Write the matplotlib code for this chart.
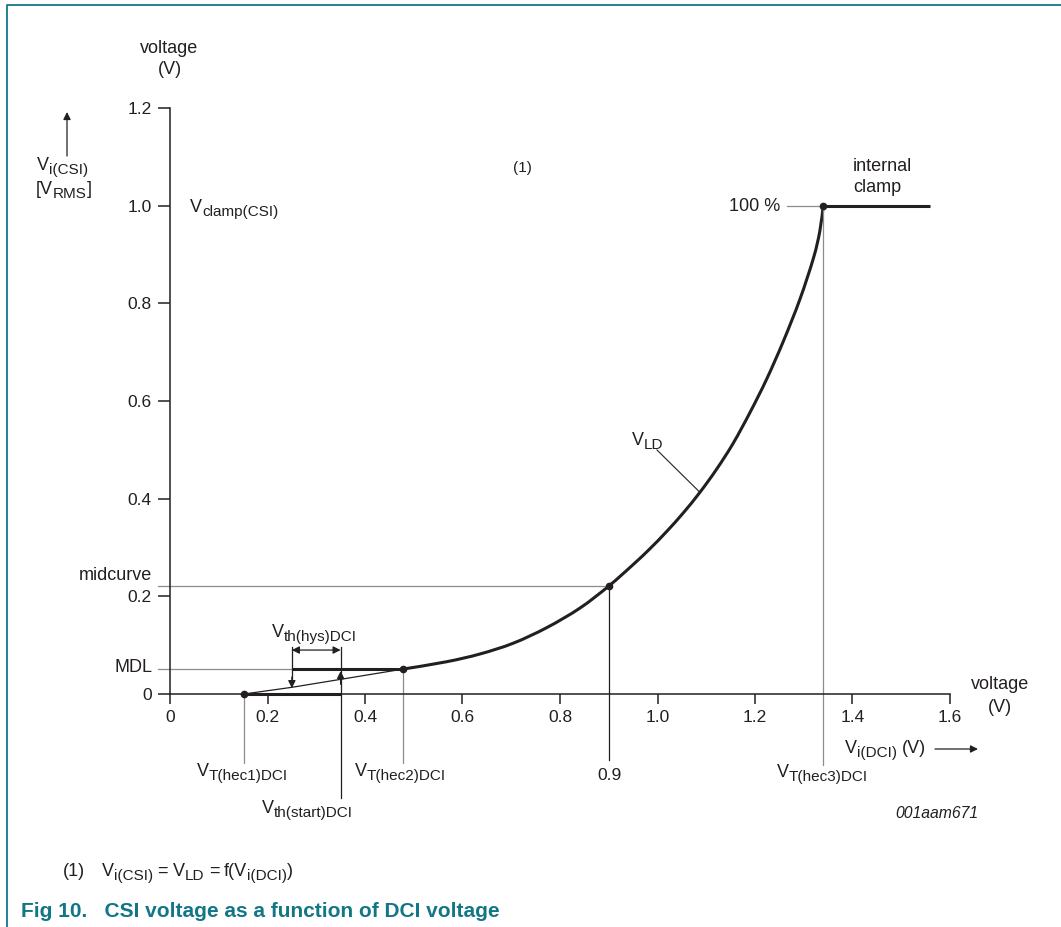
import matplotlib
matplotlib.use('Agg')
import matplotlib.pyplot as plt
from matplotlib.path import Path
from matplotlib.patches import PathPatch, FancyArrowPatch
from matplotlib.lines import Line2D

plt.rcParams['font.family'] = ['Liberation Sans', 'DejaVu Sans']
plt.rcParams['mathtext.default'] = 'regular'

# ---------------- data ----------------
x_ticks = [0, 0.2, 0.4, 0.6, 0.8, 1.0, 1.2, 1.4, 1.6]
x_tick_labels = ['0', '0.2', '0.4', '0.6', '0.8', '1.0', '1.2', '1.4', '1.6']
y_ticks = [0, 0.2, 0.4, 0.6, 0.8, 1.0, 1.2]
y_tick_labels = ['0', '0.2', '0.4', '0.6', '0.8', '1.0', '1.2']

# V_LD curve (from V_T(hec2)DCI up to V_T(hec3)DCI)
vld_x = [0.478, 0.567, 0.636, 0.704, 0.773, 0.841, 0.900, 0.950, 0.985, 1.019,
         1.053, 1.087, 1.121, 1.155, 1.190, 1.224, 1.258, 1.292, 1.320, 1.333,
         1.340]
vld_y = [0.051, 0.066, 0.082, 0.104, 0.136, 0.176, 0.221, 0.265, 0.298, 0.333,
         0.371, 0.413, 0.460, 0.513, 0.577, 0.645, 0.722, 0.808, 0.893, 0.948,
         1.000]

# thin start ramp between hec1 and hec2
ramp_x = [0.152, 0.25, 0.35, 0.478]
ramp_y = [0.0, 0.0137, 0.030, 0.051]

# key voltages
v_hec1 = 0.152
v_hys_low = 0.25
v_start = 0.35
v_hec2 = 0.478
v_mid = 0.9
v_hec3 = 1.34
v_clamp_end = 1.559
y_mdl = 0.051
y_midcurve = 0.221
y_clamp = 1.0
y_hys = 0.09

# ---------------- figure ----------------
W, H = 1061, 927
fig = plt.figure(figsize=(W / 100, H / 100), dpi=100)
TXT = '#231f20'
GRAY = '#8c8c8c'
TEAL = '#137687'

X0, X1 = 170, 950   # pixels for x = 0 and 1.6
Y0, Y1 = 694, 108   # pixels for y = 0 and 1.2
ax = fig.add_axes([X0 / W, 1 - Y0 / H, (X1 - X0) / W, (Y0 - Y1) / H])
ax.set_xlim(0, 1.6)
ax.set_ylim(0, 1.2)
for s in ['top', 'right']:
    ax.spines[s].set_visible(False)
for s in ['left', 'bottom']:
    ax.spines[s].set_linewidth(1.1)
    ax.spines[s].set_color(TXT)
ax.set_xticks(x_ticks)
ax.set_xticklabels(x_tick_labels)
ax.set_yticks(y_ticks)
ax.set_yticklabels(y_tick_labels)
ax.tick_params(axis='y', direction='out', length=8.6, width=1.1, pad=4.5,
               labelsize=12.5, colors=TXT)
ax.tick_params(axis='x', direction='out', length=7.4, width=1.1, pad=4,
               labelsize=12.5, colors=TXT)
ax.patch.set_alpha(0)

sx = (X1 - X0) / 1.6
sy = (Y0 - Y1) / 1.2


def px2x(p):
    return (p - X0) / sx


def py2y(p):
    return (Y0 - p) / sy


renderer = fig.canvas.get_renderer()


def T(x, y, s, ha='left', size=13, **kw):
    return fig.text(x / W, 1 - y / H, s, ha=ha, va='baseline', fontsize=size,
                    color=kw.pop('color', TXT), **kw)


def ST(x, y, parts, ha='left', size=13, subsize=11, subdrop=4.0):
    """Text with real subscripts; parts: (text, is_sub) tuples or pixel gaps."""
    items = []
    total = 0.0
    for p in parts:
        if isinstance(p, (int, float)):
            items.append((None, p, 0))
            total += p
            continue
        s, sub = p
        t = fig.text(0, 0, s, fontsize=subsize if sub else size, color=TXT,
                     va='baseline', ha='left')
        w = t.get_window_extent(renderer).width
        items.append((t, w, sub))
        total += w
    cx = x - (total / 2 if ha == 'center' else total if ha == 'right' else 0)
    for t, w, sub in items:
        if t is not None:
            t.set_position((cx / W, 1 - (y + (subdrop if sub else 0)) / H))
        cx += w


# gray guide lines
ax.plot([px2x(158), v_mid], [y_midcurve, y_midcurve], color=GRAY, lw=0.9, clip_on=False)
ax.plot([px2x(158), v_hec2], [y_mdl, y_mdl], color=GRAY, lw=0.9, clip_on=False)
ax.plot([px2x(787), v_hec3], [y_clamp, y_clamp], color=GRAY, lw=0.9, clip_on=False)
ax.plot([v_hec1, v_hec1], [0, py2y(763)], color=GRAY, lw=0.9, clip_on=False)
ax.plot([v_hec2, v_hec2], [y_mdl, py2y(763)], color=GRAY, lw=0.9, clip_on=False)
ax.plot([v_hec3, v_hec3], [y_clamp, py2y(765)], color=GRAY, lw=0.9, clip_on=False)
# black thin verticals
ax.plot([v_mid, v_mid], [y_midcurve, py2y(760)], color=TXT, lw=0.9, clip_on=False)
ax.plot([v_start, v_start], [py2y(647), py2y(798)], color=TXT, lw=0.9, clip_on=False)
ax.plot([v_hys_low, v_hys_low], [py2y(647), 0.03], color=TXT, lw=0.9, clip_on=False)

# thin ramp
ax.plot(ramp_x, ramp_y, color=TXT, lw=0.9)
# hysteresis thick lines
ax.plot([v_hec1, v_start], [0, 0], color=TXT, lw=2.2, solid_capstyle='butt', clip_on=False)
ax.plot([v_hys_low, v_hec2], [y_mdl, y_mdl], color=TXT, lw=2.2, solid_capstyle='butt')

# V_LD curve drawn as a smooth Bezier path through the read points
pts = list(zip(vld_x, vld_y))
verts = [pts[0]]
codes = [Path.MOVETO]
n = len(pts)
for i in range(n - 1):
    p0 = pts[i - 1] if i > 0 else pts[i]
    p1 = pts[i]
    p2 = pts[i + 1]
    p3 = pts[i + 2] if i + 2 < n else pts[i + 1]
    c1 = (p1[0] + (p2[0] - p0[0]) / 6, p1[1] + (p2[1] - p0[1]) / 6)
    c2 = (p2[0] - (p3[0] - p1[0]) / 6, p2[1] - (p3[1] - p1[1]) / 6)
    verts += [c1, c2, p2]
    codes += [Path.CURVE4] * 3
ax.add_patch(PathPatch(Path(verts, codes), fill=False, edgecolor=TXT, lw=2.2,
                       capstyle='round', joinstyle='round'))
ax.plot([v_hec3, v_clamp_end], [y_clamp, y_clamp], color=TXT, lw=2.2, solid_capstyle='butt')

# dots
ax.plot([v_hec1, v_hec2, v_mid, v_hec3], [0, y_mdl, y_midcurve, y_clamp], 'o',
        ms=4.5, color=TXT, zorder=6, clip_on=False)

# arrows
ap = dict(arrowstyle='-|>', mutation_scale=11, lw=0.9, color=TXT, shrinkA=0, shrinkB=0)
ax.annotate('', xy=(v_hys_low, 0.012), xytext=(v_hys_low, 0.035), arrowprops=ap)
ax.annotate('', xy=(v_start, 0.047), xytext=(v_start, 0.02), arrowprops=ap)
ax.annotate('', xy=(v_hys_low, y_hys), xytext=(v_start, y_hys),
            arrowprops=dict(arrowstyle='<|-|>', mutation_scale=11, lw=0.9, color=TXT,
                            shrinkA=0, shrinkB=0))
# V_LD leader
ax.plot([px2x(657), 1.087], [py2y(450), 0.413], color=TXT, lw=0.8)

# axis-name arrows (figure pixels)
fig.add_artist(FancyArrowPatch(
    (67 / W, 1 - 156 / H), (67 / W, 1 - 112 / H), transform=fig.transFigure,
    arrowstyle='-|>', mutation_scale=11, lw=0.9, color=TXT, shrinkA=0, shrinkB=0))
fig.add_artist(FancyArrowPatch(
    (935 / W, 1 - 749 / H), (978 / W, 1 - 749 / H), transform=fig.transFigure,
    arrowstyle='-|>', mutation_scale=11, lw=0.9, color=TXT, shrinkA=0, shrinkB=0))

# ---------------- texts ----------------
T(169, 53, 'voltage', ha='center')
T(170, 74, '(V)', ha='center')
ST(37, 170, [('V', 0), ('i(CSI)', 1)])
ST(36, 194, [('[V', 0), ('RMS', 1), (']', 0)])
ST(190, 212, [('V', 0), ('clamp(CSI)', 1)])
T(522, 172, '(1)', ha='center', size=11)
T(853, 171, 'internal')
T(853, 192, 'clamp')
T(780, 211, '100 %', ha='right')
ST(632, 445, [('V', 0), ('LD', 1)])
T(152, 580, 'midcurve', ha='right')
T(152, 672, 'MDL', ha='right')
ST(272, 637, [('V', 0), ('th(hys)DCI', 1)])
ST(197, 776, [('V', 0), ('T(hec1)DCI', 1)])
ST(355, 776, [('V', 0), ('T(hec2)DCI', 1)])
T(609, 780, '0.9', ha='center', size=12.5)
ST(777, 777, [('V', 0), ('T(hec3)DCI', 1)])
ST(262, 813, [('V', 0), ('th(start)DCI', 1)])
ST(845, 753, [('V', 0), ('i(DCI)', 1), 5, ('(V)', 0)])
T(1000, 689, 'voltage', ha='center')
T(1000, 712, '(V)', ha='center')
T(978, 818, '001aam671', ha='right', size=11.3, style='italic')
T(63, 876, '(1)')
ST(102, 876, [('V', 0), ('i(CSI)', 1), 4.5, ('=', 0), 4.5, ('V', 0), ('LD', 1), 4.5,
              ('=', 0), 4.5, ('f(V', 0), ('i(DCI)', 1), (')', 0)])
T(21, 917, 'Fig 10.   CSI voltage as a function of DCI voltage', size=15,
  weight='bold', color=TEAL)

# frame
fig.add_artist(Line2D([7 / W, 7 / W, 1], [0, 1 - 4.5 / H, 1 - 4.5 / H],
                      transform=fig.transFigure, color=TEAL, lw=1.3))

fig.savefig('out.png', dpi=100)
